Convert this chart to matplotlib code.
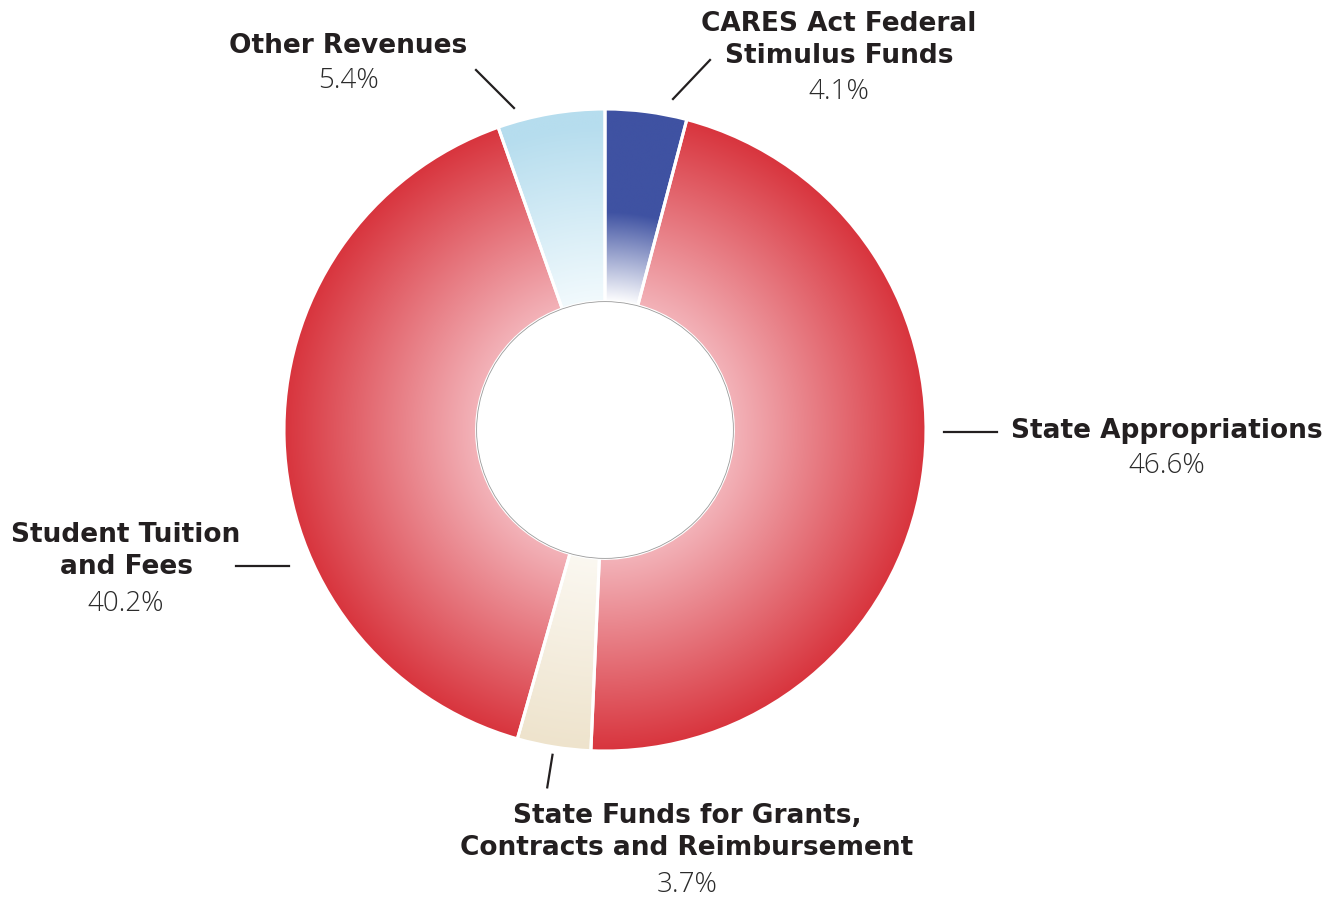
import numpy as np
import matplotlib.pyplot as plt
from matplotlib.colors import to_rgb

# data (values as printed on the chart, clockwise from 12 o'clock)
names = ['CARES Act Federal\nStimulus Funds', 'State Appropriations',
         'State Funds for Grants,\nContracts and Reimbursement',
         'Student Tuition\nand Fees', 'Other Revenues']
shares = [4.1, 46.6, 3.7, 40.2, 5.4]

# gradient colours per slice: (inner, outer, radius where full colour is reached)
grad = [('#ffffff', '#3f52a2', 0.68),
        ('#f3b3b9', '#d8343d', 1.0),
        ('#fbf8f1', '#eee3cc', 1.0),
        ('#f3b3b9', '#d8343d', 1.0),
        ('#f2fafd', '#b6ddee', 0.95)]

W, H = 1342, 898
cx, cy, R = 605, 430, 321
hole = 0.4

fig = plt.figure(figsize=(W / 100, H / 100), dpi=100)
ax = fig.add_axes([0, 0, 1, 1])

# y axis is flipped below, so counterclock in data = clockwise on screen
wedges, _ = ax.pie(shares, radius=R, center=(cx, cy), startangle=-90,
                   counterclock=True, frame=True,
                   wedgeprops=dict(width=R * (1 - hole), facecolor='none',
                                   edgecolor='white', linewidth=2.2, zorder=3))
ax.set_xlim(0, W)
ax.set_ylim(H, 0)  # pixel-style coordinates, y down
ax.axis('off')

# radial gradient fill clipped to each wedge
n = 900
xs = np.linspace(cx - R, cx + R, n)
ys = np.linspace(cy - R, cy + R, n)
gx, gy = np.meshgrid(xs, ys)
rn = np.hypot(gx - cx, gy - cy) / R
for w, (c_in, c_out, r_full) in zip(wedges, grad):
    t = np.clip((rn - hole) / (r_full - hole), 0, 1)[..., None]
    img = np.array(to_rgb(c_in)) * (1 - t) + np.array(to_rgb(c_out)) * t
    im = ax.imshow(img, extent=(cx - R, cx + R, cy + R, cy - R),
                   origin='upper', zorder=2, interpolation='bilinear')
    im.set_clip_path(w)

# faint rim of the hole
ax.add_patch(plt.Circle((cx, cy), R * hole, fill=False, edgecolor='#9a9a9a',
                        linewidth=0.6, zorder=4))

bold = dict(family='DejaVu Sans', weight='bold', size=19, color='#231f20',
            ha='center', va='center', linespacing=1.3)
light = dict(family=['Open Sans', 'DejaVu Sans'], weight='light', size=20,
             color='#2b2b2b', ha='center', va='center')

# label positions and leader lines
label_xy = [(839, 40), (1167, 431), (687, 832), (126, 551), (348, 46)]
pct_y = [92, 466, 885, 604, 81]
leaders = [((710, 60), (673, 99)), ((944, 432), (997, 432)),
           None, ((236, 566), (289, 566)),
           ((476, 70), (514, 108))]

cum = np.cumsum([0] + shares[:-1])
for i, (name, s, (lx, ly), py) in enumerate(zip(names, shares, label_xy, pct_y)):
    ax.text(lx, ly, name, **bold)
    ax.text(lx, py, f'{s}%', **light)
    seg = leaders[i]
    if seg is None:
        # short radial tick pointing at the slice middle
        a = np.deg2rad((cum[i] + s / 2) / 100 * 360)
        seg = [(cx + r * np.sin(a), cy - r * np.cos(a)) for r in (R + 8, R + 41)]
    (x0, y0), (x1, y1) = seg
    ax.plot([x0, x1], [y0, y1], color='#231f20', lw=1.6, zorder=5)

fig.savefig('out.png', dpi=100)
